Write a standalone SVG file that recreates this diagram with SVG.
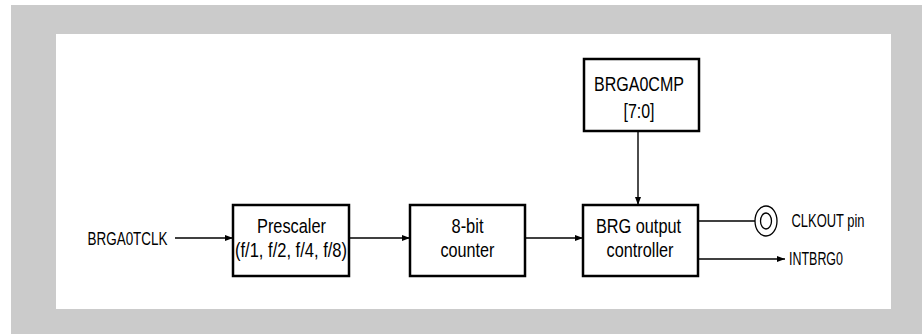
<svg xmlns="http://www.w3.org/2000/svg" width="922" height="334" viewBox="0 0 922 334">
<style>
.box{fill:#fff;stroke:#000;stroke-width:2.5}
.t{font-family:"Liberation Sans",Arial,sans-serif;font-size:20.5px;fill:#000}
.c{text-anchor:middle}
.l{font-family:"Liberation Sans",Arial,sans-serif;font-size:17.5px;fill:#000}
.w{fill:none;stroke:#000;stroke-width:1.4}
</style>
<defs>
<marker id="ah" viewBox="0 0 8 6" refX="8" refY="3" markerWidth="8" markerHeight="6" markerUnits="userSpaceOnUse" orient="auto">
<path d="M0,0 L8,3 L0,6 Z" fill="#000"/>
</marker>
</defs>
<rect x="11" y="5" width="911" height="329" fill="#cbcbcb"/>
<rect x="56" y="34" width="835" height="275" fill="#fff"/>
<g id="connectors">
<line class="w" x1="175" y1="238" x2="233" y2="238" marker-end="url(#ah)"/>
<line class="w" x1="349" y1="238" x2="410" y2="238" marker-end="url(#ah)"/>
<line class="w" x1="525" y1="238" x2="583" y2="238" marker-end="url(#ah)"/>
<line class="w" x1="638" y1="131" x2="638" y2="205" marker-end="url(#ah)"/>
<line class="w" x1="698" y1="221" x2="755" y2="221"/>
<line class="w" x1="698" y1="259" x2="785" y2="259" marker-end="url(#ah)"/>
</g>
<g id="brga0tclk">
<text class="l" x="87.5" y="245" textLength="80" lengthAdjust="spacingAndGlyphs">BRGA0TCLK</text>
</g>
<g id="prescaler">
<rect class="box" x="233" y="205" width="116" height="71"/>
<text class="t c" x="291.5" y="232.5" textLength="69" lengthAdjust="spacingAndGlyphs">Prescaler</text>
<text class="t c" x="291" y="257" textLength="112" lengthAdjust="spacingAndGlyphs">(f/1, f/2, f/4, f/8)</text>
</g>
<g id="counter">
<rect class="box" x="410" y="205" width="115" height="71"/>
<text class="t c" x="467.5" y="232.5" textLength="32" lengthAdjust="spacingAndGlyphs">8-bit</text>
<text class="t c" x="467.5" y="257" textLength="54" lengthAdjust="spacingAndGlyphs">counter</text>
</g>
<g id="controller">
<rect class="box" x="583" y="205" width="115" height="71"/>
<text class="t c" x="638.5" y="232.5" textLength="85" lengthAdjust="spacingAndGlyphs">BRG output</text>
<text class="t c" x="640" y="257" textLength="67" lengthAdjust="spacingAndGlyphs">controller</text>
</g>
<g id="brga0cmp">
<rect class="box" x="584" y="59" width="115" height="72"/>
<text class="t c" x="639" y="90.5" textLength="90" lengthAdjust="spacingAndGlyphs">BRGA0CMP</text>
<text class="t c" x="639" y="118" textLength="31" lengthAdjust="spacingAndGlyphs">[7:0]</text>
</g>
<g id="clkout">
<ellipse cx="766" cy="221" rx="11" ry="15" fill="#fff" stroke="#000" stroke-width="1.3"/>
<ellipse cx="766" cy="221" rx="5.5" ry="8" fill="none" stroke="#000" stroke-width="1.3"/>
<text class="l" x="791.5" y="226.5" textLength="73" lengthAdjust="spacingAndGlyphs">CLKOUT pin</text>
</g>
<g id="intbrg0">
<text class="l" x="789" y="264.5" textLength="54" lengthAdjust="spacingAndGlyphs">INTBRG0</text>
</g>
</svg>
